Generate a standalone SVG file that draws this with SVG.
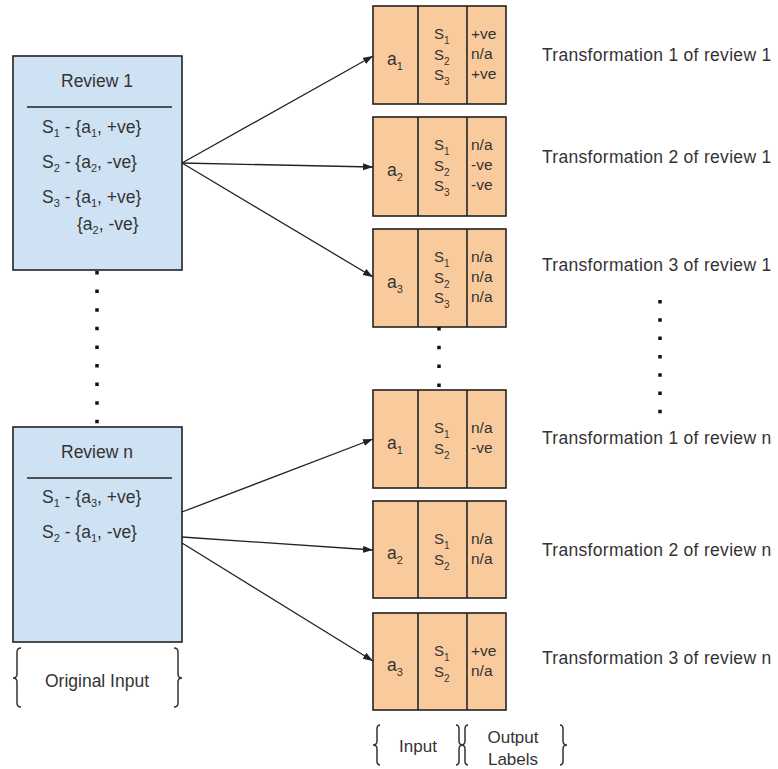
<svg xmlns="http://www.w3.org/2000/svg" width="778" height="769" viewBox="0 0 778 769">
<style>
text{font-family:"Liberation Sans",Arial,sans-serif;fill:#333}
.rev{fill:#cfe2f3;stroke:#222;stroke-width:1.6}
.out{fill:#f9cb9c;stroke:#222;stroke-width:1.6}
.sep{stroke:#222;stroke-width:1.6}
.big{font-size:17.5px}
.sm{font-size:15px}
.rc{font-size:15.5px}
.aa{font-size:17.5px}
.lab{font-size:17.5px;letter-spacing:0.3px}
.leg{font-size:17px}
.sb{font-size:11px}
.ss{font-size:10px}
.conn{stroke:#222;stroke-width:1.3;fill:none;marker-end:url(#arr)}
.dots{stroke:#111;stroke-width:3.5;fill:none}
.brace{stroke:#333;stroke-width:1.5;fill:none}
</style>
<defs>
<marker id="arr" markerUnits="userSpaceOnUse" markerWidth="11" markerHeight="8" refX="10" refY="3.5" orient="auto">
<path d="M0,0 L10,3.5 L0,7 z" fill="#222"/>
</marker>
</defs>
<rect width="778" height="769" fill="#fff"/>

<g id="review1">
<rect class="rev" x="13" y="56" width="169" height="214"/>
<line class="sep" x1="27" y1="107" x2="172" y2="107"/>
<text class="big" x="97" y="87" text-anchor="middle">Review 1</text>
<text class="big" x="42" y="133">S<tspan class="sb" dy="4">1</tspan><tspan dy="-4"> - {a</tspan><tspan class="sb" dy="4">1</tspan><tspan dy="-4">, +ve}</tspan></text>
<text class="big" x="42" y="168">S<tspan class="sb" dy="4">2</tspan><tspan dy="-4"> - {a</tspan><tspan class="sb" dy="4">2</tspan><tspan dy="-4">, -ve}</tspan></text>
<text class="big" x="42" y="203">S<tspan class="sb" dy="4">3</tspan><tspan dy="-4"> - {a</tspan><tspan class="sb" dy="4">1</tspan><tspan dy="-4">, +ve}</tspan></text>
<text class="big" x="77" y="230">{a<tspan class="sb" dy="4">2</tspan><tspan dy="-4">, -ve}</tspan></text>
</g>

<g id="reviewN">
<rect class="rev" x="13" y="427" width="169" height="215"/>
<line class="sep" x1="27" y1="478" x2="172" y2="478"/>
<text class="big" x="97" y="458" text-anchor="middle">Review n</text>
<text class="big" x="42" y="503">S<tspan class="sb" dy="4">1</tspan><tspan dy="-4"> - {a</tspan><tspan class="sb" dy="4">3</tspan><tspan dy="-4">, +ve}</tspan></text>
<text class="big" x="42" y="538">S<tspan class="sb" dy="4">2</tspan><tspan dy="-4"> - {a</tspan><tspan class="sb" dy="4">1</tspan><tspan dy="-4">, -ve}</tspan></text>
</g>

<g id="originalInput">
<path class="brace" d="M21 648 Q17 648 17 652 L17 674 Q17 678 13 678 Q17 678 17 682 L17 703 Q17 707 21 707"/>
<path class="brace" d="M174 648 Q178 648 178 652 L178 674 Q178 678 182 678 Q178 678 178 682 L178 703 Q178 707 174 707"/>
<text class="big" x="97" y="687" text-anchor="middle">Original Input</text>
</g>

<g id="t1r1">
<rect class="out" x="373" y="6" width="133" height="98"/>
<line class="sep" x1="418" y1="6" x2="418" y2="104"/>
<line class="sep" x1="467" y1="6" x2="467" y2="104"/>
<text class="aa" x="387" y="65">a<tspan class="sb" dy="5">1</tspan></text>
<text class="sm" x="434" y="39">S<tspan class="ss" dy="5">1</tspan></text>
<text class="sm" x="434" y="60">S<tspan class="ss" dy="5">2</tspan></text>
<text class="sm" x="434" y="80">S<tspan class="ss" dy="5">3</tspan></text>
<text class="rc" x="471" y="39">+ve</text>
<text class="rc" x="471" y="59">n/a</text>
<text class="rc" x="471" y="79">+ve</text>
</g>

<g id="t2r1">
<rect class="out" x="373" y="117" width="133" height="99"/>
<line class="sep" x1="418" y1="117" x2="418" y2="216"/>
<line class="sep" x1="467" y1="117" x2="467" y2="216"/>
<text class="aa" x="387" y="176">a<tspan class="sb" dy="5">2</tspan></text>
<text class="sm" x="434" y="150">S<tspan class="ss" dy="5">1</tspan></text>
<text class="sm" x="434" y="171">S<tspan class="ss" dy="5">2</tspan></text>
<text class="sm" x="434" y="191">S<tspan class="ss" dy="5">3</tspan></text>
<text class="rc" x="471" y="150">n/a</text>
<text class="rc" x="471" y="170">-ve</text>
<text class="rc" x="471" y="190">-ve</text>
</g>

<g id="t3r1">
<rect class="out" x="373" y="229" width="133" height="98"/>
<line class="sep" x1="418" y1="229" x2="418" y2="327"/>
<line class="sep" x1="467" y1="229" x2="467" y2="327"/>
<text class="aa" x="387" y="288">a<tspan class="sb" dy="5">3</tspan></text>
<text class="sm" x="434" y="262">S<tspan class="ss" dy="5">1</tspan></text>
<text class="sm" x="434" y="283">S<tspan class="ss" dy="5">2</tspan></text>
<text class="sm" x="434" y="303">S<tspan class="ss" dy="5">3</tspan></text>
<text class="rc" x="471" y="262">n/a</text>
<text class="rc" x="471" y="282">n/a</text>
<text class="rc" x="471" y="302">n/a</text>
</g>

<g id="t1rn">
<rect class="out" x="373" y="390" width="133" height="98"/>
<line class="sep" x1="418" y1="390" x2="418" y2="488"/>
<line class="sep" x1="467" y1="390" x2="467" y2="488"/>
<text class="aa" x="387" y="449">a<tspan class="sb" dy="5">1</tspan></text>
<text class="sm" x="434" y="433">S<tspan class="ss" dy="5">1</tspan></text>
<text class="sm" x="434" y="454">S<tspan class="ss" dy="5">2</tspan></text>
<text class="rc" x="471" y="433">n/a</text>
<text class="rc" x="471" y="453">-ve</text>
</g>

<g id="t2rn">
<rect class="out" x="373" y="501" width="133" height="97"/>
<line class="sep" x1="418" y1="501" x2="418" y2="598"/>
<line class="sep" x1="467" y1="501" x2="467" y2="598"/>
<text class="aa" x="387" y="559">a<tspan class="sb" dy="5">2</tspan></text>
<text class="sm" x="434" y="544">S<tspan class="ss" dy="5">1</tspan></text>
<text class="sm" x="434" y="565">S<tspan class="ss" dy="5">2</tspan></text>
<text class="rc" x="471" y="544">n/a</text>
<text class="rc" x="471" y="564">n/a</text>
</g>

<g id="t3rn">
<rect class="out" x="373" y="613" width="133" height="97"/>
<line class="sep" x1="418" y1="613" x2="418" y2="710"/>
<line class="sep" x1="467" y1="613" x2="467" y2="710"/>
<text class="aa" x="387" y="671">a<tspan class="sb" dy="5">3</tspan></text>
<text class="sm" x="434" y="656">S<tspan class="ss" dy="5">1</tspan></text>
<text class="sm" x="434" y="677">S<tspan class="ss" dy="5">2</tspan></text>
<text class="rc" x="471" y="656">+ve</text>
<text class="rc" x="471" y="676">n/a</text>
</g>

<g id="labels">
<text class="lab" x="542" y="61">Transformation 1 of review 1</text>
<text class="lab" x="542" y="163">Transformation 2 of review 1</text>
<text class="lab" x="542" y="271">Transformation 3 of review 1</text>
<text class="lab" x="542" y="444">Transformation 1 of review n</text>
<text class="lab" x="542" y="556">Transformation 2 of review n</text>
<text class="lab" x="542" y="664">Transformation 3 of review n</text>
</g>

<g id="inputLegend">
<path class="brace" d="M380 725 Q377 725 377 729 L377 741 Q377 745 373 745 Q377 745 377 749 L377 761 Q377 765 380 765"/>
<path class="brace" d="M456 725 Q459 725 459 729 L459 741 Q459 745 463 745 Q459 745 459 749 L459 761 Q459 765 456 765"/>
<text class="leg" x="418" y="752" text-anchor="middle">Input</text>
</g>

<g id="outputLegend">
<path class="brace" d="M468 725 Q465 725 465 729 L465 741 Q465 745 461 745 Q465 745 465 749 L465 761 Q465 765 468 765"/>
<path class="brace" d="M560 725 Q563 725 563 729 L563 741 Q563 745 567 745 Q563 745 563 749 L563 761 Q563 765 560 765"/>
<text class="leg" x="513" y="743" text-anchor="middle">Output</text>
<text class="leg" x="513" y="765" text-anchor="middle">Labels</text>
</g>

<g id="connectors">
<line class="conn" x1="182" y1="163" x2="373" y2="56"/>
<line class="conn" x1="182" y1="163" x2="373" y2="167"/>
<line class="conn" x1="182" y1="163" x2="373" y2="277"/>
<line class="conn" x1="182" y1="512" x2="373" y2="439"/>
<line class="conn" x1="182" y1="537" x2="373" y2="550"/>
<line class="conn" x1="182" y1="543" x2="373" y2="661"/>
<line class="dots" x1="97" y1="271" x2="97" y2="425" stroke-dasharray="3.5 15.1"/>
<line class="dots" x1="439" y1="327" x2="439" y2="390" stroke-dasharray="3.5 15.3"/>
<line class="dots" x1="660" y1="300" x2="660" y2="415" stroke-dasharray="3.5 14.8"/>
</g>
</svg>
